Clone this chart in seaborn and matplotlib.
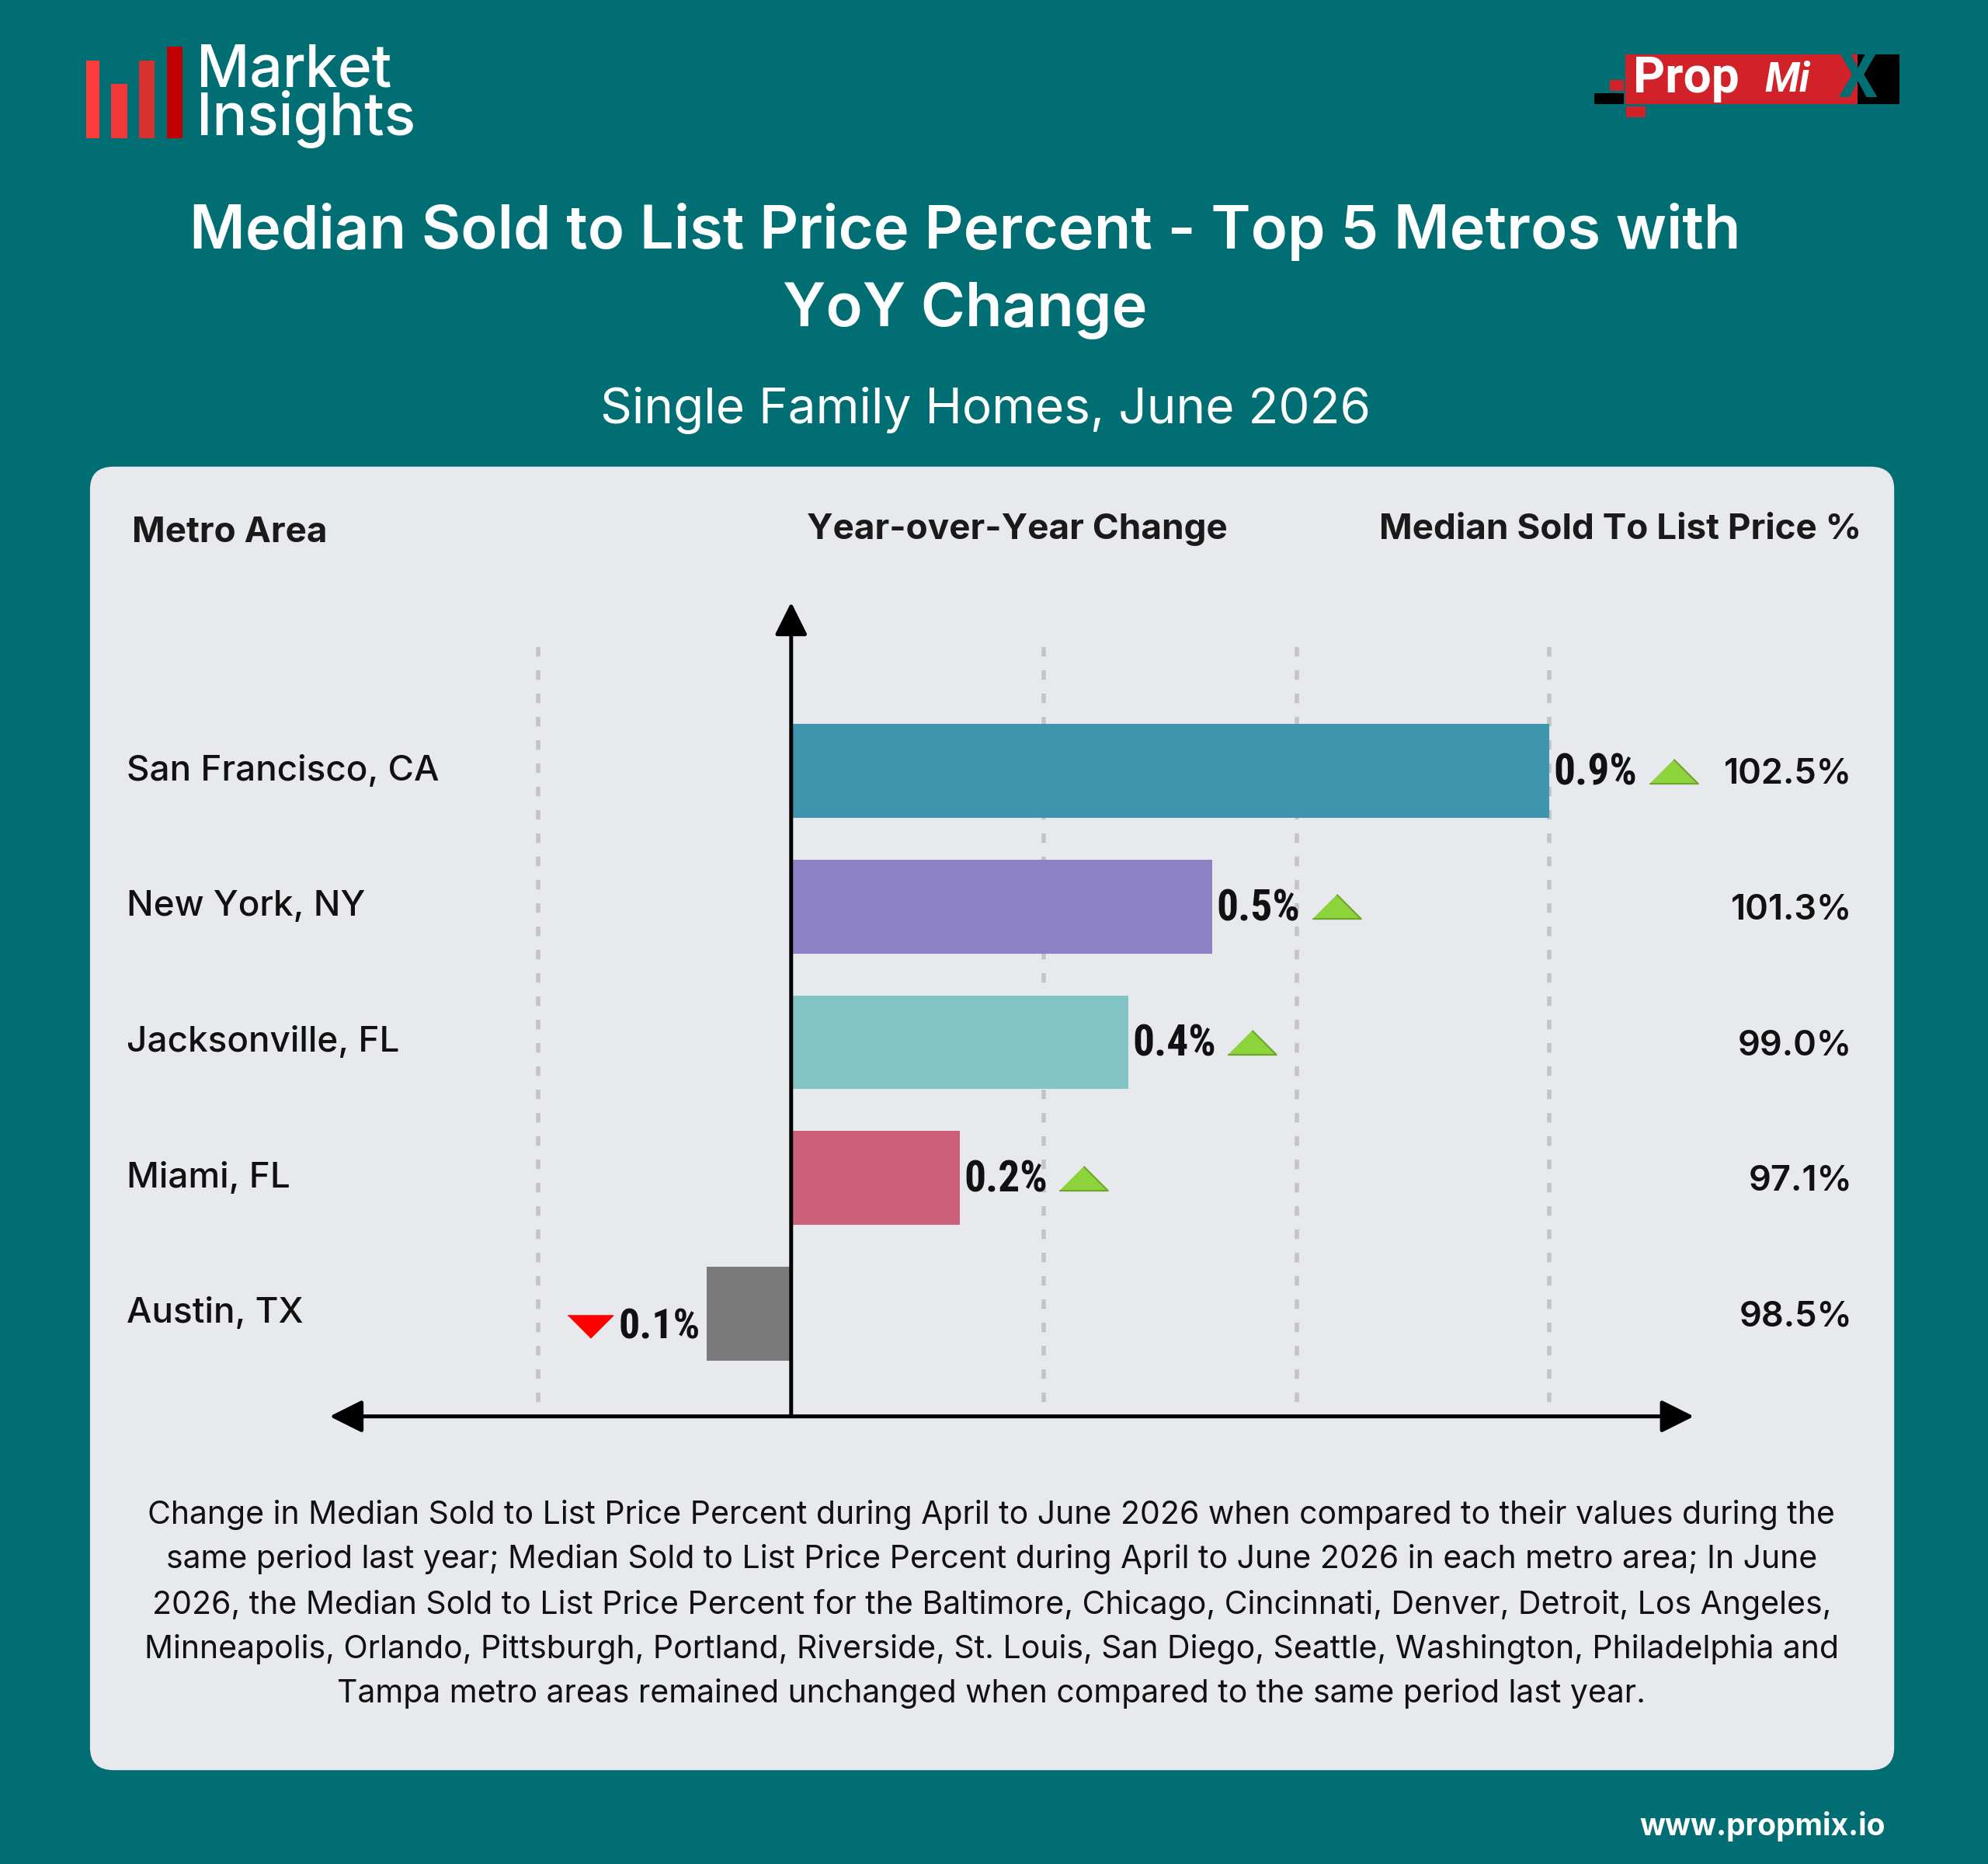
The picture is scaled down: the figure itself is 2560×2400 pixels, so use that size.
import matplotlib
matplotlib.use("Agg")
import matplotlib.pyplot as plt
import matplotlib.patches as mpatches
import matplotlib.transforms as mtransforms
import seaborn as sns
import pandas as pd

# ---------------- data ----------------
metros = ["San Francisco, CA", "New York, NY", "Jacksonville, FL", "Miami, FL", "Austin, TX"]
yoy_change = [0.9, 0.5, 0.4, 0.2, -0.1]
sold_to_list = [102.5, 101.3, 99.0, 97.1, 98.5]
bar_colors = ["#3f94ae", "#8c82c4", "#82c3c4", "#cc607a", "#7a7a7a"]
grid_ticks = [-0.3, 0.3, 0.6, 0.9]

title = "Median Sold to List Price Percent - Top 5 Metros with\nYoY Change"
subtitle = "Single Family Homes, June 2026"
footnote = ("Change in Median Sold to List Price Percent during April to June 2026 when compared to their values during the\n"
            "same period last year; Median Sold to List Price Percent during April to June 2026 in each metro area; In June\n"
            "2026, the Median Sold to List Price Percent for the Baltimore, Chicago, Cincinnati, Denver, Detroit, Los Angeles,\n"
            "Minneapolis, Orlando, Pittsburgh, Portland, Riverside, St. Louis, San Diego, Seattle, Washington, Philadelphia and\n"
            "Tampa metro areas remained unchanged when compared to the same period last year.")

df = pd.DataFrame({"metro": metros, "yoy": yoy_change, "stl": sold_to_list})

# ---------------- style ----------------
sns.set_theme(style="white")
plt.rcParams["font.family"] = ["Inter", "DejaVu Sans"]

TEAL = "#006e73"
CARD = "#e7e9ec"
W, H = 1568.0, 1470.0  # reference layout units


def fx(x):
    return x / W


def fy(y):
    return 1 - y / H


fig = plt.figure(figsize=(25.6, 24), dpi=100, facecolor=TEAL)

# card
card = mpatches.FancyBboxPatch((fx(71), fy(1396)), fx(1494) - fx(71), fy(368) - fy(1396),
                               boxstyle="round,pad=0,rounding_size=0.012",
                               transform=fig.transFigure, facecolor=CARD, edgecolor="none", zorder=-5)
fig.patches.append(card)

# ---- Market Insights logo ----
logo_bars = [((110.7, 128.3), 78, "#ff3b3b"), ((143, 164), 108, "#f03838"),
             ((179, 199), 78, "#d93030"), ((214.7, 235), 60, "#c00000")]
for (x0, x1), top, c in logo_bars:
    fig.patches.append(mpatches.Rectangle((x0 / 2560, 1 - 178 / 2400), (x1 - x0) / 2560, (178 - top) / 2400,
                                          transform=fig.transFigure, facecolor=c, edgecolor="none"))
fig.text(253 / 2560, 1 - 124 / 2400, "Market\nInsights", color="white", fontsize=54, fontweight="medium",
         ha="left", va="center", linespacing=0.8)

# ---- PropMix logo ----
def rect_px(x0, y0, x1, y1, c):
    fig.patches.append(mpatches.Rectangle((x0 / 2560, 1 - y1 / 2400), (x1 - x0) / 2560, (y1 - y0) / 2400,
                                          transform=fig.transFigure, facecolor=c, edgecolor="none"))

rect_px(2093, 70, 2392, 134, "#d12229")
rect_px(2392, 70, 2446, 134, "#000000")
rect_px(2073, 103, 2091, 117, "#d12229")
rect_px(2053, 120, 2091, 134, "#000000")
rect_px(2094, 137, 2119, 151, "#d12229")
fig.text(2103 / 2560, 1 - 102 / 2400, "Prop", color="white", fontsize=46, fontweight="bold",
         family=["Roboto", "DejaVu Sans"], ha="left", va="center")
fig.text(2272 / 2560, 1 - 104 / 2400, "Mi", color="white", fontsize=38, fontweight="bold", style="italic",
         family=["Roboto", "DejaVu Sans"], ha="left", va="center")
fig.text(2392 / 2560, 1 - 103 / 2400, "X", color=TEAL, fontsize=58, fontweight="bold",
         family=["Roboto", "DejaVu Sans"], ha="center", va="center")

# ---- titles ----
fig.text(fx(761), fy(214), title, color="white", fontsize=56, fontweight="semibold",
         ha="center", va="center", linespacing=1.47)
fig.text(fx(777), fy(323), subtitle, color="white", fontsize=46, ha="center", va="center")

# ---- column headers ----
hdr_kw = dict(color="#1a1a1a", fontsize=33, fontweight="bold", va="center")
fig.text(fx(104), fy(420), "Metro Area", ha="left", **hdr_kw)
fig.text(fx(802), fy(418), "Year-over-Year Change", ha="center", **hdr_kw)
fig.text(fx(1468), fy(418), "Median Sold To List Price %", ha="right", **hdr_kw)

# ---- main axes ----
ax = fig.add_axes([fx(71), fy(1117), fx(1494) - fx(71), fy(475) - fy(1117)])
ax.set_facecolor("none")
ax.set_zorder(2)
px_per_unit = 664.4
x_left = (71 - 624) / px_per_unit
x_right = (1494 - 624) / px_per_unit
y_bottom = (1117 - 608) / 107.0
y_top = (475 - 608) / 107.0

sns.barplot(data=df, x="yoy", y="metro", hue="metro", palette=bar_colors, saturation=1,
            width=0.69, legend=False, ax=ax, zorder=3, linewidth=0)

ax.set_xlim(x_left, x_right)
ax.set_ylim(y_bottom, y_top)
for s in ax.spines.values():
    s.set_visible(False)
ax.set_xticks([])
ax.set_yticks([])
ax.set_xlabel("")
ax.set_ylabel("")

# dashed grid
grid_top = (510 - 608) / 107.0
ax.vlines(grid_ticks, grid_top, y_bottom, colors="#c4c4c4", linewidth=4,
          linestyles=(0, (2.2, 3.2)), zorder=1)

# axes arrows
arrow_kw = dict(mutation_scale=32, linewidth=3.6, color="black", shrinkA=0, shrinkB=0,
                clip_on=False, zorder=5)
ax.add_patch(mpatches.FancyArrowPatch(((260 - 624) / px_per_unit, y_bottom),
                                      ((1336 - 624) / px_per_unit, y_bottom),
                                      arrowstyle="<|-|>,head_length=0.8,head_width=0.4", **arrow_kw))
ax.add_patch(mpatches.FancyArrowPatch((0, y_bottom), (0, y_top),
                                      arrowstyle="-|>,head_length=0.8,head_width=0.4", **arrow_kw))

# labels
metro_x = (100 - 624) / px_per_unit
right_x = (1461 - 624) / px_per_unit
up_tri = [(-1, -0.5), (1, -0.5), (0, 0.5)]
down_tri = [(-1, 0.5), (1, 0.5), (0, -0.5)]
val_font = ["Roboto Condensed", "Roboto", "DejaVu Sans"]

for i, (m, v, s) in enumerate(zip(metros, yoy_change, sold_to_list)):
    ax.text(metro_x, i, m, ha="left", va="center", fontsize=33, fontweight="medium",
            color="#111111", zorder=6)
    ax.annotate(f"{s:.1f}%", (right_x, i), xytext=(0, -3), textcoords="offset points",
                ha="right", va="center", fontsize=32.5, fontweight="semibold", color="#111111",
                annotation_clip=False, zorder=6)
    if v >= 0:
        ax.annotate(f"{abs(v):.1f}%", (v, i), xytext=(4, -2), textcoords="offset points",
                    ha="left", va="center", fontsize=40, fontweight="bold", color="#111111",
                    family=val_font, zorder=6)
        tr = mtransforms.offset_copy(ax.transData, fig=fig, x=115, y=0, units="points")
        ax.plot([v], [i], marker=up_tri, markersize=45, color="#8dd43c",
                markeredgecolor="#6ba52a", markeredgewidth=1.5, transform=tr, zorder=6,
                clip_on=False)
    else:
        ax.annotate(f"{abs(v):.1f}%", (v, i), xytext=(-6, -13), textcoords="offset points",
                    ha="right", va="center", fontsize=39, fontweight="bold", color="#111111",
                    family=val_font, zorder=6)
        tr = mtransforms.offset_copy(ax.transData, fig=fig, x=-108, y=-12, units="points")
        ax.plot([v], [i], marker=down_tri, markersize=42, color="#ff0000",
                markeredgecolor="#ff0000", markeredgewidth=1, transform=tr, zorder=6,
                clip_on=False)

# footnote
fig.text(fx(782), fy(1265), footnote, ha="center", va="center", fontsize=29.5, color="#111111",
         linespacing=1.58)

fig.text(fx(1487), fy(1440), "www.propmix.io", ha="right", va="center", fontsize=28,
         fontweight="bold", color="white")

fig.savefig("out.png", dpi=100, facecolor=TEAL)
